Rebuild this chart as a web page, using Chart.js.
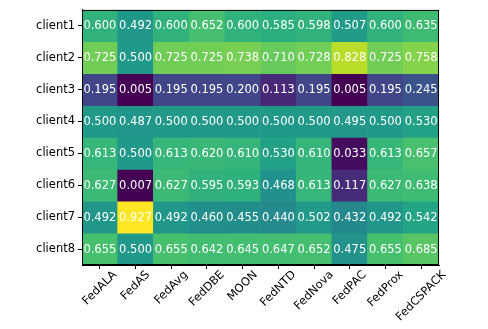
<!DOCTYPE html>
<html>
<head>
<meta charset="utf-8">
<script src="https://cdn.jsdelivr.net/npm/chart.js@4/dist/chart.umd.min.js"></script>
<style>
  html, body { margin: 0; padding: 0; background: #fff; }
  #wrap { width: 488px; height: 329px; }
</style>
</head>
<body>
<div id="wrap"><canvas id="myChart"></canvas></div>
<script>
// heatmap values, one row per client
var methods = ['FedALA', 'FedAS', 'FedAvg', 'FedDBE', 'MOON', 'FedNTD', 'FedNova', 'FedPAC', 'FedProx', 'FedCSPACK'];
var clients = ['client1', 'client2', 'client3', 'client4', 'client5', 'client6', 'client7', 'client8'];

var client1 = [0.600, 0.492, 0.600, 0.652, 0.600, 0.585, 0.598, 0.507, 0.600, 0.635];
var client2 = [0.725, 0.500, 0.725, 0.725, 0.738, 0.710, 0.728, 0.828, 0.725, 0.758];
var client3 = [0.195, 0.005, 0.195, 0.195, 0.200, 0.113, 0.195, 0.005, 0.195, 0.245];
var client4 = [0.500, 0.487, 0.500, 0.500, 0.500, 0.500, 0.500, 0.495, 0.500, 0.530];
var client5 = [0.613, 0.500, 0.613, 0.620, 0.610, 0.530, 0.610, 0.033, 0.613, 0.657];
var client6 = [0.627, 0.007, 0.627, 0.595, 0.593, 0.468, 0.613, 0.117, 0.627, 0.638];
var client7 = [0.492, 0.927, 0.492, 0.460, 0.455, 0.440, 0.502, 0.432, 0.492, 0.542];
var client8 = [0.655, 0.500, 0.655, 0.642, 0.645, 0.647, 0.652, 0.475, 0.655, 0.685];

var rows = [client1, client2, client3, client4, client5, client6, client7, client8];

// viridis, sampled every 0.1
var viridis = ['#440154', '#482475', '#414487', '#355f8d', '#2a788e', '#21918c',
               '#22a884', '#44bf70', '#7ad151', '#bddf26', '#fde725'];

function hexToRgb(h) {
  return [parseInt(h.substr(1, 2), 16), parseInt(h.substr(3, 2), 16), parseInt(h.substr(5, 2), 16)];
}

var allVals = [].concat.apply([], rows);
var vmin = Math.min.apply(null, allVals);
var vmax = Math.max.apply(null, allVals);

function colorFor(v) {
  var t = (v - vmin) / (vmax - vmin);
  t = Math.max(0, Math.min(1, t)) * (viridis.length - 1);
  var i = Math.min(Math.floor(t), viridis.length - 2);
  var f = t - i;
  var a = hexToRgb(viridis[i]), b = hexToRgb(viridis[i + 1]);
  var c = a.map(function (x, k) { return Math.round(x + (b[k] - x) * f); });
  return 'rgb(' + c.join(',') + ')';
}

var FONT = '"DejaVu Sans", sans-serif';

var datasets = rows.map(function (vals, r) {
  return {
    label: clients[r],
    data: vals.map(function () { return [r, r + 1]; }),
    values: vals,
    backgroundColor: vals.map(colorFor),
    borderWidth: 0,
    barPercentage: 1,
    categoryPercentage: 1
  };
});

var cellText = {
  id: 'cellText',
  afterDatasetsDraw: function (chart) {
    var ctx = chart.ctx;
    ctx.save();
    ctx.font = '11.5px ' + FONT;
    ctx.fillStyle = '#ffffff';
    ctx.textAlign = 'center';
    ctx.textBaseline = 'middle';
    chart.data.datasets.forEach(function (ds, d) {
      var meta = chart.getDatasetMeta(d);
      meta.data.forEach(function (el, i) {
        var p = el.getCenterPoint();
        ctx.fillText(ds.values[i].toFixed(3), p.x, p.y + 0.5);
      });
    });
    ctx.restore();
  },
  afterDraw: function (chart) {
    var ctx = chart.ctx;
    var a = chart.chartArea;
    ctx.save();
    // frame
    ctx.strokeStyle = '#000';
    ctx.lineWidth = 1;
    ctx.strokeRect(a.left + 0.5, a.top + 0.5, a.right - a.left - 1, a.bottom - a.top - 1);
    // rotated x labels, centred under the tick
    var xs = chart.scales.x;
    ctx.font = '11.5px ' + FONT;
    ctx.fillStyle = '#000';
    ctx.textAlign = 'center';
    ctx.textBaseline = 'middle';
    methods.forEach(function (m, i) {
      var w = ctx.measureText(m).width;
      var x = xs.getPixelForValue(i);
      var y = a.bottom + 5 + (w + 8.4) * 0.3535;
      ctx.save();
      ctx.translate(x, y);
      ctx.rotate(-Math.PI / 4);
      ctx.fillText(m, 0, 0);
      ctx.restore();
    });
    ctx.restore();
  }
};

var ctx = document.getElementById('myChart').getContext('2d');
var myChart = new Chart(ctx, {
  type: 'bar',
  data: {
    labels: methods,
    datasets: datasets
  },
  options: {
    responsive: true,
    maintainAspectRatio: false,
    animation: false,
    layout: { padding: { top: 8, right: 49, left: 0, bottom: 0 } },
    plugins: {
      legend: { display: false },
      tooltip: { enabled: false }
    },
    scales: {
      x: {
        stacked: true,
        grid: { offset: false, drawOnChartArea: false, drawTicks: true, tickLength: 4, color: '#000' },
        border: { display: true, color: '#000', width: 1 },
        ticks: { display: false },
        afterFit: function (s) { s.height = 64; }
      },
      y: {
        min: 0,
        max: 8,
        reverse: true,
        grid: { drawOnChartArea: false, drawTicks: true, tickLength: 4, color: '#000' },
        border: { display: true, color: '#000', width: 1 },
        afterBuildTicks: function (s) {
          s.ticks = clients.map(function (c, i) { return { value: i + 0.5 }; });
        },
        ticks: {
          padding: 3,
          color: '#000',
          font: { family: FONT, size: 11.5 },
          callback: function (v) { return clients[Math.floor(v)]; }
        },
        afterFit: function (s) { s.width = 82; }
      }
    }
  },
  plugins: [cellText]
});
</script>
</body>
</html>
